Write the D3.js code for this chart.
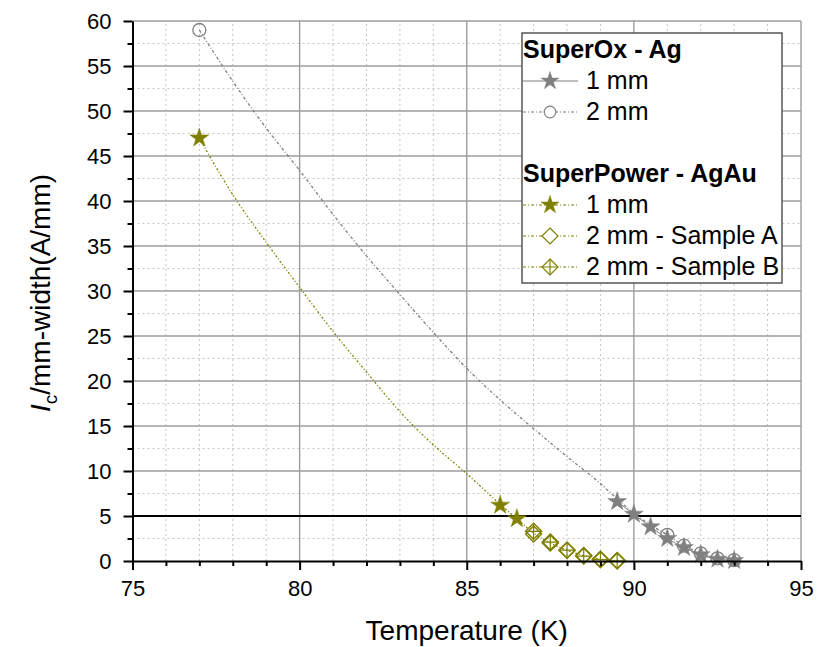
<!DOCTYPE html>
<html>
<head>
<meta charset="utf-8">
<script src="https://cdn.jsdelivr.net/npm/d3@7"></script>
<style>
  body { margin: 0; background: #fff; }
  text { font-family: Arial, "Liberation Sans", sans-serif; fill: #000; }
</style>
</head>
<body>
<div id="chart"></div>
<script>
// values
const superOx1T = [89.5, 90, 90.5, 91, 91.5, 92, 92.5, 93];
const superOx1I = [6.6, 5.2, 3.8, 2.5, 1.5, 0.7, 0.2, 0.05];

const superOx2T = [77, 91, 91.5, 92, 92.5, 93];
const superOx2I = [59, 2.9, 1.7, 0.85, 0.3, 0.1];

// dotted guide curve through the SuperOx 2 mm points
const superOx2CurveT = [77, 78, 79, 80, 81, 82, 83, 84, 85, 86, 87, 88, 89, 89.5, 90, 90.5, 91, 91.5, 92, 92.5, 93];
const superOx2CurveI = [59, 53.3, 48.1, 43.4, 38.5, 33.9, 29.6, 25.4, 21.4, 17.9, 14.7, 11.6, 8.6, 6.9, 5.3, 4.0, 2.9, 1.7, 0.85, 0.3, 0.1];

const superPow1T = [77, 86, 86.5];
const superPow1I = [47, 6.2, 4.7];

const samplesT = [87, 87.5, 88, 88.5, 89, 89.5];
const sampleAI = [3.0, 2.0, 1.2, 0.6, 0.2, 0.05];
const sampleBI = [3.3, 2.1, 1.2, 0.55, 0.15, 0.0];

// dotted guide curve through the SuperPower points
const superPowCurveT = [77, 78, 79, 80, 81, 82, 83, 84, 85, 86, 86.5, 87, 87.5, 88, 88.5, 89, 89.5];
const superPowCurveI = [47, 40.7, 35.4, 30.4, 25.5, 21.0, 16.6, 12.9, 9.7, 6.3, 4.7, 3.1, 2.0, 1.2, 0.6, 0.2, 0.05];

const xMajor = [75, 80, 85, 90, 95];
const yMajor = [0, 5, 10, 15, 20, 25, 30, 35, 40, 45, 50, 55, 60];
const refLevel = 5;

const GRAY = "#808080";
const OLIVE = "#808000";

const width = 817, height = 647;
const x = d3.scaleLinear().domain([75, 95]).range([132.5, 801]);
const y = d3.scaleLinear().domain([0, 60]).range([561, 21]);

const svg = d3.select("#chart").append("svg")
  .attr("width", width)
  .attr("height", height);

const zip = (ts, is) => ts.map((t, i) => [t, is[i]]);

// grid
const xMinor = d3.range(75, 95.01, 1).filter(v => v % 5 !== 0);
const yMinor = d3.range(0, 60.01, 2.5).filter(v => v % 5 !== 0);

const grid = svg.append("g");
grid.selectAll(".gx-minor").data(xMinor).join("line")
  .attr("x1", d => x(d)).attr("x2", d => x(d))
  .attr("y1", y(0)).attr("y2", y(60))
  .attr("stroke", "#c4c4c4").attr("stroke-dasharray", "2,3");
grid.selectAll(".gy-minor").data(yMinor).join("line")
  .attr("x1", x(75)).attr("x2", x(95))
  .attr("y1", d => y(d)).attr("y2", d => y(d))
  .attr("stroke", "#c4c4c4").attr("stroke-dasharray", "2,3");
grid.selectAll(".gx-major").data(xMajor.slice(1)).join("line")
  .attr("x1", d => x(d)).attr("x2", d => x(d))
  .attr("y1", y(0)).attr("y2", y(60))
  .attr("stroke", "#9c9c9c").attr("stroke-width", 1.4);
grid.selectAll(".gy-major").data(yMajor.slice(1)).join("line")
  .attr("x1", x(75)).attr("x2", x(95))
  .attr("y1", d => y(d)).attr("y2", d => y(d))
  .attr("stroke", "#9c9c9c").attr("stroke-width", 1.4);

// horizontal reference line at 5 A/mm
svg.append("line")
  .attr("x1", x(75)).attr("x2", x(95))
  .attr("y1", y(refLevel)).attr("y2", y(refLevel))
  .attr("stroke", "#000").attr("stroke-width", 2.2);

const line = d3.line().x(d => x(d[0])).y(d => y(d[1])).curve(d3.curveMonotoneX);

// lines
svg.append("path")
  .datum(zip(superOx2CurveT, superOx2CurveI))
  .attr("d", line)
  .attr("fill", "none").attr("stroke", GRAY).attr("stroke-width", 1.3)
  .attr("stroke-dasharray", "3,2,1,2");
svg.append("path")
  .datum(zip(superOx1T, superOx1I))
  .attr("d", line)
  .attr("fill", "none").attr("stroke", GRAY).attr("stroke-width", 1);
svg.append("path")
  .datum(zip(superPowCurveT, superPowCurveI))
  .attr("d", line)
  .attr("fill", "none").attr("stroke", OLIVE).attr("stroke-width", 1.3)
  .attr("stroke-dasharray", "2,2,1,2");

// marker helpers
const starPath = d3.symbol().type(d3.symbolStar).size(110)();
const legendStar = d3.symbol().type(d3.symbolStar).size(100)();
const diamondPath = (r) => `M0,${-r}L${r},0L0,${r}L${-r},0Z`;

function drawStar(g, cx, cy, color) {
  g.append("path").attr("d", starPath)
    .attr("transform", `translate(${cx},${cy})`)
    .attr("fill", color).attr("stroke", color).attr("stroke-width", 0.5);
}
function drawCircle(g, cx, cy) {
  g.append("circle").attr("cx", cx).attr("cy", cy).attr("r", 6.5)
    .attr("fill", "none").attr("stroke", GRAY).attr("stroke-width", 1.3);
}
function drawDiamond(g, cx, cy, crossed) {
  const r = 8;
  g.append("path").attr("d", diamondPath(r))
    .attr("transform", `translate(${cx},${cy})`)
    .attr("fill", "none").attr("stroke", OLIVE).attr("stroke-width", 1.5);
  if (crossed) {
    g.append("path").attr("d", `M0,${-r}V${r}M${-r},0H${r}`)
      .attr("transform", `translate(${cx},${cy})`)
      .attr("fill", "none").attr("stroke", OLIVE).attr("stroke-width", 1.2);
  }
}

const marks = svg.append("g");
zip(superOx2T, superOx2I).forEach(d => drawCircle(marks, x(d[0]), y(d[1])));
zip(superOx1T, superOx1I).forEach(d => drawStar(marks, x(d[0]), y(d[1]), GRAY));
zip(samplesT, sampleAI).forEach(d => drawDiamond(marks, x(d[0]), y(d[1]), false));
zip(samplesT, sampleBI).forEach(d => drawDiamond(marks, x(d[0]), y(d[1]), true));
zip(superPow1T, superPow1I).forEach(d => drawStar(marks, x(d[0]), y(d[1]), OLIVE));

// axes
svg.append("g").attr("transform", `translate(0,${y(0)})`)
  .call(d3.axisBottom(x).tickValues(xMajor).tickSize(9).tickSizeOuter(0).tickPadding(10).tickFormat(d3.format("d")));
svg.append("g").attr("transform", `translate(0,${y(0)})`)
  .call(d3.axisBottom(x).tickValues(xMinor).tickSize(5).tickSizeOuter(0).tickFormat(""))
  .select(".domain").remove();
svg.append("g").attr("transform", `translate(${x(75)},0)`)
  .call(d3.axisLeft(y).tickValues(yMajor).tickSize(9).tickSizeOuter(0).tickPadding(12).tickFormat(d3.format("d")));
svg.append("g").attr("transform", `translate(${x(75)},0)`)
  .call(d3.axisLeft(y).tickValues(yMinor).tickSize(5).tickSizeOuter(0).tickFormat(""))
  .select(".domain").remove();

svg.selectAll(".domain").attr("stroke", "#000").attr("stroke-width", 2);
svg.selectAll(".tick line").attr("stroke", "#000").attr("stroke-width", 2);
svg.selectAll(".tick text").attr("font-size", 22).attr("font-family", "Arial, 'Liberation Sans', sans-serif").attr("fill", "#000");

// axis titles
svg.append("text")
  .attr("x", (x(75) + x(95)) / 2).attr("y", 640)
  .attr("text-anchor", "middle").attr("font-size", 28)
  .text("Temperature (K)");

const yt = svg.append("text")
  .attr("transform", `translate(50,293) rotate(-90)`)
  .attr("text-anchor", "middle").attr("font-size", 28);
yt.append("tspan").attr("font-style", "italic").text("I");
yt.append("tspan").attr("font-size", 19).attr("dy", 7).text("c");
yt.append("tspan").attr("dy", -7).text("/mm-width(A/mm)");

// legend
const legendRows = [
  { label: "SuperOx - Ag", title: true },
  { label: "1 mm", color: GRAY, mark: "star", dash: null },
  { label: "2 mm", color: GRAY, mark: "circle", dash: "3,2,1,2" },
  { label: "", spacer: true },
  { label: "SuperPower - AgAu", title: true },
  { label: "1 mm", color: OLIVE, mark: "star", dash: "3,2,1,2" },
  { label: "2 mm - Sample A", color: OLIVE, mark: "diamond", dash: "3,2,1,2" },
  { label: "2 mm - Sample B", color: OLIVE, mark: "diamondx", dash: "3,2,1,2" }
];

const lg = svg.append("g");
lg.append("rect")
  .attr("x", 522).attr("y", 33).attr("width", 260).attr("height", 250)
  .attr("fill", "#fff").attr("stroke", "#555").attr("stroke-width", 1.5);

legendRows.forEach((r, i) => {
  const base = 58 + i * 31;
  if (r.spacer) return;
  if (r.title) {
    lg.append("text").attr("x", 523).attr("y", base)
      .attr("font-size", 25).attr("font-weight", "bold").text(r.label);
    return;
  }
  const cy = base - 8;
  lg.append("line").attr("x1", 523).attr("x2", 578).attr("y1", cy).attr("y2", cy)
    .attr("stroke", r.color).attr("stroke-width", 1.2)
    .attr("stroke-dasharray", r.dash);
  if (r.mark === "star") {
    lg.append("path").attr("d", legendStar).attr("transform", `translate(550,${cy})`)
      .attr("fill", r.color).attr("stroke", r.color).attr("stroke-width", 0.5);
  } else if (r.mark === "circle") {
    lg.append("circle").attr("cx", 550).attr("cy", cy).attr("r", 5.8)
      .attr("fill", "#fff").attr("stroke", r.color).attr("stroke-width", 1.2);
  } else {
    lg.append("path").attr("d", diamondPath(8)).attr("transform", `translate(550,${cy})`)
      .attr("fill", "#fff").attr("stroke", r.color).attr("stroke-width", 1.2);
    if (r.mark === "diamondx") {
      lg.append("path").attr("d", "M0,-8V8M-8,0H8").attr("transform", `translate(550,${cy})`)
        .attr("fill", "none").attr("stroke", r.color).attr("stroke-width", 1.2);
    }
  }
  lg.append("text").attr("x", 586).attr("y", base).attr("font-size", 25).text(r.label);
});
</script>
</body>
</html>
